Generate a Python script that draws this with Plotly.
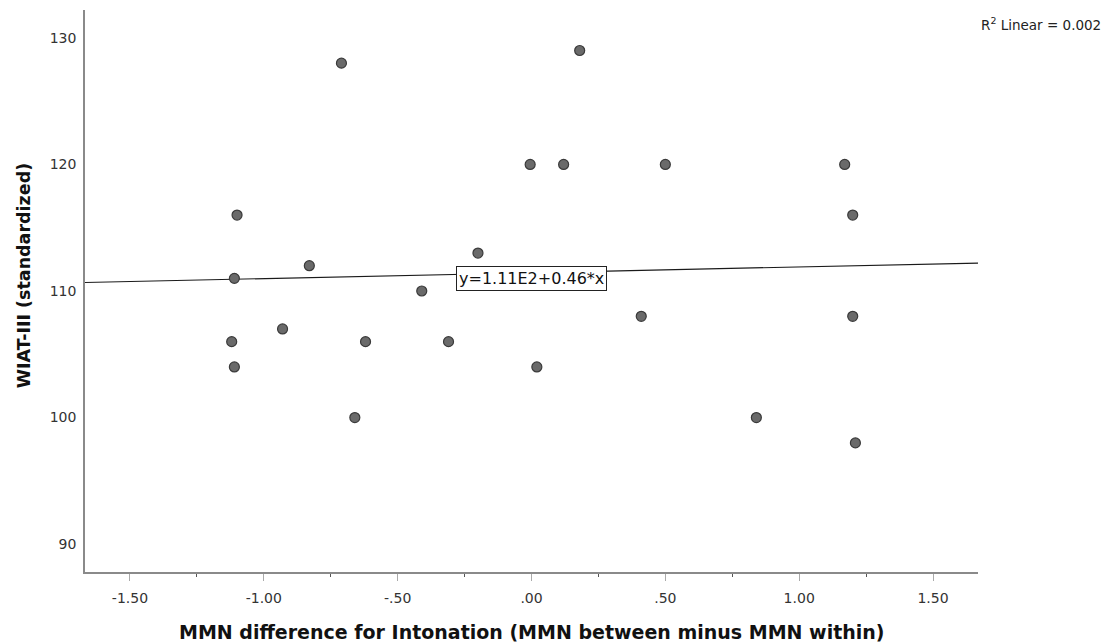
import plotly.graph_objects as go

# MMN difference for intonation (between minus within) vs WIAT-III standardized score
mmn_diff = [-1.12, -1.10, -1.11, -1.11, -0.93, -0.83, -0.71, -0.66, -0.62, -0.41,
            -0.31, -0.20, -0.005, 0.02, 0.12, 0.18, 0.41, 0.50, 0.84, 1.17,
            1.20, 1.20, 1.21]
wiat = [106, 116, 111, 104, 107, 112, 128, 100, 106, 110,
        106, 113, 120, 104, 120, 129, 108, 120, 100, 120,
        116, 108, 98]

# Linear fit reported with the chart
fit_intercept = 111.44
fit_slope = 0.46
r_squared = 0.002

x_tick_vals = [-1.5, -1.0, -0.5, 0.0, 0.5, 1.0, 1.5]
x_tick_text = ["-1.50", "-1.00", "-.50", ".00", ".50", "1.00", "1.50"]
x_minor_vals = [-1.25, -0.75, -0.25, 0.25, 0.75, 1.25]
y_tick_vals = [90, 100, 110, 120, 130]

x_range = [-1.668, 1.668]
y_range = [87.8, 132.2]

FONT = "DejaVu Sans"

fig = go.Figure()

# Regression line across the full x range
line_x = list(x_range)
line_y = [fit_intercept + fit_slope * v for v in line_x]
fig.add_trace(go.Scatter(
    x=line_x, y=line_y, mode="lines",
    line=dict(color="#1a1a1a", width=1.2),
    hoverinfo="skip", showlegend=False,
))

fig.add_trace(go.Scatter(
    x=mmn_diff, y=wiat, mode="markers",
    marker=dict(size=10, color="#6a6a6a", line=dict(color="#3a3a3a", width=1.2)),
    showlegend=False,
))

def sci3(v):
    mant, exp = f"{v:.2E}".split("E")
    return f"{mant}E{int(exp)}"

eq_text = f"y={sci3(fit_intercept)}+{fit_slope:.2f}*x"

fig.add_annotation(
    x=0, y=fit_intercept, xref="x", yref="y",
    text=eq_text, showarrow=False, yshift=-6,
    font=dict(family=FONT, size=16, color="#111"),
    bgcolor="white", bordercolor="#222", borderwidth=1, borderpad=2,
)

fig.add_annotation(
    x=1.140, y=0.975, xref="paper", yref="paper",
    xanchor="right", yanchor="middle",
    text=f"R<sup>2</sup> Linear = {r_squared:.3f}", showarrow=False,
    font=dict(family=FONT, size=13.5, color="#222"),
)

fig.add_annotation(
    x=0.5, y=-0.107, xref="paper", yref="paper",
    xanchor="center", yanchor="middle",
    text="<b>MMN difference for Intonation (MMN between minus MMN within)</b>",
    showarrow=False, font=dict(family=FONT, size=19, color="#111"),
)

fig.add_annotation(
    x=-0.069, y=0.527, xref="paper", yref="paper",
    xanchor="center", yanchor="middle", textangle=-90,
    text="<b>WIAT-III (standardized)</b>",
    showarrow=False, font=dict(family=FONT, size=17.5, color="#111"),
)

fig.update_layout(
    width=1115, height=644,
    margin=dict(l=85, r=137, t=10, b=72, autoexpand=False),
    paper_bgcolor="white", plot_bgcolor="white",
    font=dict(family=FONT, size=14, color="#333"),
    xaxis=dict(
        range=x_range, showgrid=False, zeroline=False,
        showline=True, linecolor="#8a8a8a", linewidth=1.5,
        tickmode="array", tickvals=x_tick_vals, ticktext=x_tick_text,
        ticks="outside", ticklen=7, tickcolor="#aaaaaa", tickwidth=1,
        ticklabelstandoff=5,
        minor=dict(tickmode="array", tickvals=x_minor_vals, ticks="outside",
                   ticklen=3, tickcolor="#555555", tickwidth=1, showgrid=False),
        tickfont=dict(family=FONT, size=14, color="#333"),
    ),
    yaxis=dict(
        range=y_range, showgrid=False, zeroline=False,
        showline=True, linecolor="#8a8a8a", linewidth=1.5,
        tickmode="array", tickvals=y_tick_vals, ticks="",
        ticklabelstandoff=4,
        tickfont=dict(family=FONT, size=14, color="#333"),
    ),
)

fig.write_html("out.html")
